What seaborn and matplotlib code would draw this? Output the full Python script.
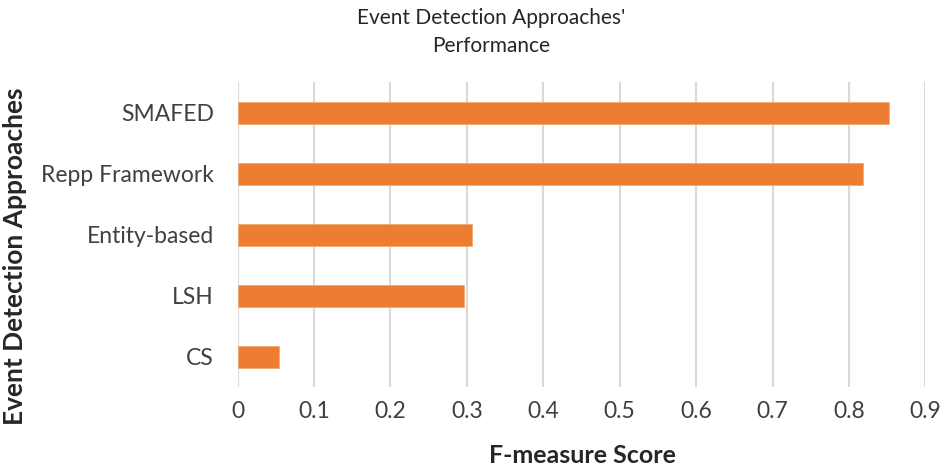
import matplotlib
matplotlib.use("Agg")
import matplotlib.pyplot as plt
import seaborn as sns
import pandas as pd
from matplotlib.ticker import FuncFormatter

approaches = ["SMAFED", "Repp Framework", "Entity-based", "LSH", "CS"]
f_scores = [0.852, 0.818, 0.307, 0.296, 0.054]
x_ticks = [0, 0.1, 0.2, 0.3, 0.4, 0.5, 0.6, 0.7, 0.8, 0.9]

df = pd.DataFrame({"Approach": approaches, "Score": f_scores})

sns.set_theme(style="white")
plt.rcParams['font.family'] = ['Lato', 'DejaVu Sans']

fig = plt.figure(figsize=(9.44, 4.69), dpi=100)
ax = fig.add_axes([0.2516, 0.1738, 0.9804 - 0.2516, 0.8241 - 0.1738])

sns.barplot(data=df, x="Score", y="Approach", orient="h", color="#ED7D31",
            width=0.37, ax=ax, saturation=1, edgecolor="#F4A872", linewidth=0.6,
            zorder=3)

ax.set_xlim(0, 0.9)
ax.set_xticks(x_ticks)
ax.xaxis.set_major_formatter(FuncFormatter(lambda v, p: "0" if abs(v) < 1e-9 else f"{v:.1f}"))
ax.grid(axis="x", color="#D9D9D9", linewidth=1.5, zorder=0)
ax.grid(axis="y", visible=False)
for s in ax.spines.values():
    s.set_visible(False)
ax.tick_params(axis="both", length=0, labelsize=16.5, labelcolor="#404040")
ax.tick_params(axis="x", pad=10)
ax.tick_params(axis="y", pad=17)

ax.set_xlabel("")
ax.set_ylabel("")
fig.text(582 / 944, 1 - 455 / 469, "F-measure Score", fontsize=18, fontweight="bold",
         color="#262626", ha="center", va="center")
fig.text(15 / 944, 1 - 256 / 469, "Event Detection Approaches", rotation=90, fontsize=19,
         fontweight="bold", color="#262626", ha="center", va="center")

fig.text(491 / 944, 1 - 32 / 469, "Event Detection Approaches'\nPerformance", ha="center",
         va="center", fontsize=15, color="#262626", linespacing=1.5)

fig.savefig("out.png", dpi=100)
